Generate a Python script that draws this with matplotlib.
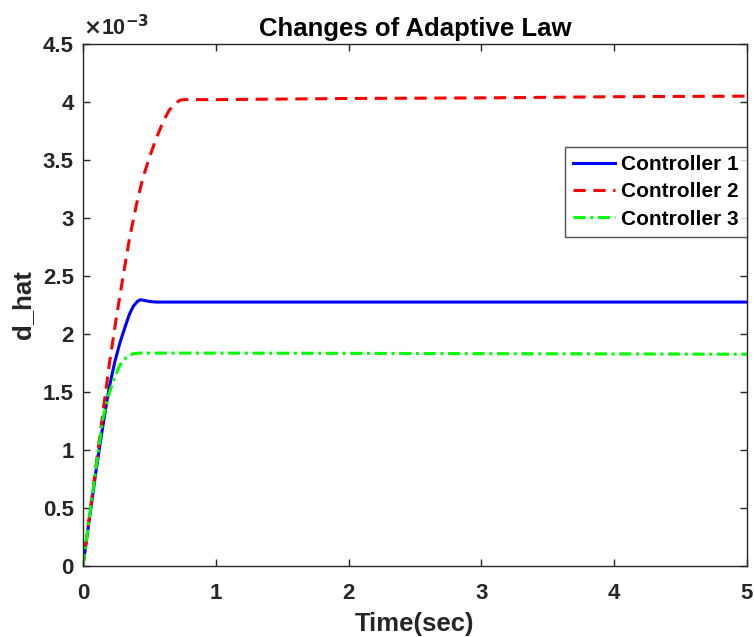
import matplotlib.pyplot as plt
from matplotlib.ticker import FuncFormatter

plt.rcParams['font.family'] = ['Liberation Sans', 'DejaVu Sans']
plt.rcParams['font.weight'] = 'bold'

# values (d_hat in units of 1e-3)
t1 = [0, 0.03, 0.06, 0.1, 0.13, 0.17, 0.2, 0.24, 0.28, 0.32, 0.35, 0.38, 0.41, 0.43, 0.46, 0.5, 0.55, 0.6, 0.8, 1.0, 2.0, 3.0, 4.0, 5.0]
d1 = [0, 0.25, 0.5, 0.83, 1.06, 1.35, 1.55, 1.76, 1.93, 2.07, 2.17, 2.24, 2.28, 2.295, 2.29, 2.28, 2.275, 2.275, 2.275, 2.275, 2.275, 2.275, 2.275, 2.275]

t2 = [0, 0.05, 0.1, 0.15, 0.2, 0.25, 0.3, 0.35, 0.4, 0.45, 0.5, 0.55, 0.6, 0.65, 0.7, 0.73, 0.76, 1.0, 2.0, 3.0, 4.0, 5.0]
d2 = [0, 0.44, 0.88, 1.32, 1.75, 2.13, 2.48, 2.82, 3.1, 3.34, 3.52, 3.68, 3.82, 3.93, 3.99, 4.015, 4.02, 4.02, 4.03, 4.035, 4.045, 4.05]

t3 = [0, 0.05, 0.1, 0.15, 0.19, 0.23, 0.27, 0.3, 0.34, 0.38, 0.42, 0.5, 1.0, 2.0, 3.0, 4.0, 5.0]
d3 = [0, 0.43, 0.86, 1.27, 1.46, 1.6, 1.71, 1.77, 1.81, 1.83, 1.835, 1.835, 1.835, 1.833, 1.83, 1.828, 1.825]

labels = ['Controller 1', 'Controller 2', 'Controller 3']

fig = plt.figure(figsize=(7.54, 6.37), dpi=100)
ax = fig.add_axes([0.110, 0.1115, 0.8806, 0.8195])

ax.plot(t1, d1, color='#0000FF', lw=2.2, label=labels[0])
ax.plot(t2, d2, color='#FF0000', lw=2.2, ls=(0, (4, 2.5)), label=labels[1])
ax.plot(t3, d3, color='#00FF00', lw=2.2, ls=(0, (4, 1.5, 1, 1.5)), label=labels[2])

ax.set_xlim(0, 5)
ax.set_ylim(0, 4.5)
ax.set_xticks([0, 1, 2, 3, 4, 5])
ax.set_yticks([0, 0.5, 1, 1.5, 2, 2.5, 3, 3.5, 4, 4.5])
ax.yaxis.set_major_formatter(FuncFormatter(lambda v, p: '%g' % v))
ax.tick_params(direction='in', top=True, right=True, labelsize=16, length=5,
               width=1, colors='#262626', labelcolor='#262626')
ax.tick_params(axis='x', pad=12)
ax.tick_params(axis='y', pad=6.5)
for s in ax.spines.values():
    s.set_color('#262626')
    s.set_linewidth(1.0)

ax.set_xlabel('Time(sec)', fontsize=18.5, fontweight='bold', color='#262626', labelpad=6)
ax.set_ylabel('d_hat', fontsize=18.5, fontweight='bold', color='#262626', labelpad=6)
ax.set_title('Changes of Adaptive Law', fontsize=18.5, fontweight='bold', pad=6)
ax.text(0.0, 1.008, r'$\times$10$^{\mathbf{-3}}$', transform=ax.transAxes,
        fontsize=15.5, color='#262626', ha='left', va='bottom')

leg = ax.legend(loc='upper right', bbox_to_anchor=(1.0, 0.803), borderaxespad=0,
                prop={'weight': 'bold', 'size': 15}, fancybox=False,
                handlelength=2.0, handletextpad=0.3, labelspacing=0.4, borderpad=0.4)
leg.get_frame().set_edgecolor('#262626')
leg.get_frame().set_linewidth(1.0)

fig.savefig('out.png', dpi=100)
